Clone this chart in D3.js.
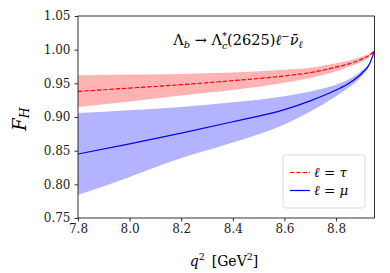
<!DOCTYPE html>
<html>
<head>
<meta charset="utf-8">
<script src="https://cdn.jsdelivr.net/npm/d3@7"></script>
<style>
  body { margin: 0; background: #fff; }
</style>
</head>
<body>
<div id="chart"></div>
<script>
// q^2 sample points [GeV^2]
const q2 = [7.8, 8.0, 8.2, 8.4, 8.6, 8.7, 8.8, 8.85, 8.9, 8.93, 8.949];

// l = tau : central value and band
const tauMid = [0.938, 0.943, 0.948, 0.954, 0.961, 0.966, 0.974, 0.979, 0.986, 0.992, 0.998];
const tauHi  = [0.962, 0.963, 0.964, 0.966, 0.970, 0.973, 0.980, 0.984, 0.990, 0.994, 0.999];
const tauLo  = [0.915, 0.923, 0.932, 0.940, 0.951, 0.958, 0.968, 0.975, 0.982, 0.990, 0.997];

// l = mu : central value and band
const muMid = [0.845, 0.860, 0.876, 0.893, 0.911, 0.924, 0.940, 0.950, 0.965, 0.979, 0.9985];
const muHi  = [0.906, 0.910, 0.915, 0.922, 0.931, 0.938, 0.948, 0.956, 0.969, 0.981, 0.999];
const muLo  = [0.784, 0.811, 0.839, 0.862, 0.889, 0.908, 0.931, 0.944, 0.961, 0.977, 0.998];

const xTicks = [7.8, 8.0, 8.2, 8.4, 8.6, 8.8];
const yTicks = [0.75, 0.80, 0.85, 0.90, 0.95, 1.00, 1.05];

// Dimensions
const margin = {top: 16, right: 15.5, bottom: 55, left: 78};
const width = 390 - margin.left - margin.right;
const height = 273 - margin.top - margin.bottom;
const serif = "DejaVu Serif";

const svg = d3.select("#chart")
  .append("svg")
  .attr("width", 390)
  .attr("height", 273)
  .attr("font-family", serif)
  .append("g")
  .attr("transform", `translate(${margin.left},${margin.top})`);

const x = d3.scaleLinear().domain([7.8, 8.949]).range([0, width]);
const y = d3.scaleLinear().domain([0.75, 1.05]).range([height, 0]);

svg.append("clipPath").attr("id", "clip")
  .append("rect").attr("width", width).attr("height", height);

const plot = svg.append("g").attr("clip-path", "url(#clip)");

// Bands
const area = (lo, hi) => d3.area()
  .x((d, i) => x(q2[i]))
  .y0((d, i) => y(lo[i]))
  .y1((d, i) => y(hi[i]))
  .curve(d3.curveMonotoneX)(q2);

plot.append("path").attr("d", area(tauLo, tauHi)).attr("fill", "#ffb3b3");
plot.append("path").attr("d", area(muLo, muHi)).attr("fill", "#b3b3ff");

// Central lines
const line = vals => d3.line()
  .x((d, i) => x(q2[i]))
  .y((d, i) => y(vals[i]))
  .curve(d3.curveMonotoneX)(q2);

plot.append("path").attr("d", line(tauMid))
  .attr("fill", "none").attr("stroke", "#ff0000")
  .attr("stroke-width", 1.2).attr("stroke-dasharray", "4.4,1.9");
plot.append("path").attr("d", line(muMid))
  .attr("fill", "none").attr("stroke", "#0000ff")
  .attr("stroke-width", 1.2);

// Axes
const xAxis = svg.append("g")
  .attr("transform", `translate(0,${height})`)
  .call(d3.axisBottom(x).tickValues(xTicks).tickFormat(d3.format(".1f")).tickSizeOuter(0).tickSize(3.5).tickPadding(3));
const yAxis = svg.append("g")
  .call(d3.axisLeft(y).tickValues(yTicks).tickFormat(d3.format(".2f")).tickSizeOuter(0).tickSize(3.5).tickPadding(4));

[xAxis, yAxis].forEach(a => {
  a.attr("font-family", serif);
  a.select(".domain").remove();
  a.selectAll("line").attr("stroke", "#000").attr("stroke-width", 0.8);
  a.selectAll("text").attr("font-size", 12).attr("fill", "#222")
    .attr("font-family", serif);
});

// Frame
svg.append("rect")
  .attr("width", width).attr("height", height)
  .attr("fill", "none").attr("stroke", "#000").attr("stroke-width", 0.8);

// Y label
svg.append("text")
  .attr("transform", `translate(${-52},${height / 2 + 2}) rotate(-90)`)
  .attr("text-anchor", "middle")
  .attr("font-size", 18)
  .attr("font-style", "italic")
  .text("F")
  .append("tspan").attr("font-size", 12.5).attr("dy", 3).text("H");

// X label
const xl = svg.append("text")
  .attr("x", 146).attr("y", height + 48)
  .attr("text-anchor", "middle")
  .attr("font-size", 14);
xl.append("tspan").attr("font-style", "italic").text("q");
xl.append("tspan").attr("font-size", 9.5).attr("dy", -6).text("2");
xl.append("tspan").attr("dy", 6).text("\u2002[GeV");
xl.append("tspan").attr("font-size", 9.5).attr("dy", -6).text("2");
xl.append("tspan").attr("dy", 6).text("]");

// Title
const t = svg.append("text")
  .attr("x", 160).attr("y", 29)
  .attr("text-anchor", "middle")
  .attr("font-size", 14.5);
t.append("tspan").text("\u039B");
t.append("tspan").attr("font-size", 10).attr("font-style", "italic").attr("dy", 3).text("b");
t.append("tspan").attr("dy", -3).text(" \u2192 \u039B");
t.append("tspan").attr("font-size", 10).attr("font-style", "italic").attr("dy", 3.5).text("c");
t.append("tspan").attr("font-size", 10).attr("dx", -5.5).attr("dy", -9.5).text("*");
t.append("tspan").attr("dy", 6).text("(2625)");
t.append("tspan").attr("font-style", "italic").text("\u2113");
t.append("tspan").attr("font-size", 10).attr("dy", -5.5).text("\u2212");
t.append("tspan").attr("dy", 5.5).attr("font-style", "italic").text("\u03BD\u0304");
t.append("tspan").attr("font-size", 10).attr("font-style", "italic").attr("dy", 3).text("\u2113");

// Legend
const legend = svg.append("g").attr("transform", `translate(${205},${139})`);
legend.append("rect")
  .attr("width", 82).attr("height", 53).attr("rx", 3)
  .attr("fill", "#fff").attr("fill-opacity", 0.8)
  .attr("stroke", "#d0d0d0").attr("stroke-width", 0.8);
const entries = [
  {label: "\u03C4", color: "#ff0000", dash: "4.4,1.9"},
  {label: "\u03BC", color: "#0000ff", dash: null}
];
entries.forEach((e, i) => {
  const yy = 17.5 + i * 18;
  legend.append("line")
    .attr("x1", 7).attr("x2", 27).attr("y1", yy).attr("y2", yy)
    .attr("stroke", e.color).attr("stroke-width", 1.2)
    .attr("stroke-dasharray", e.dash);
  const tx = legend.append("text").attr("x", 31).attr("y", yy + 4.5)
    .attr("font-size", 13.5);
  tx.append("tspan").attr("font-style", "italic").text("\u2113");
  tx.append("tspan").text(" = ");
  tx.append("tspan").attr("font-style", "italic").text(e.label);
});
</script>
</body>
</html>
